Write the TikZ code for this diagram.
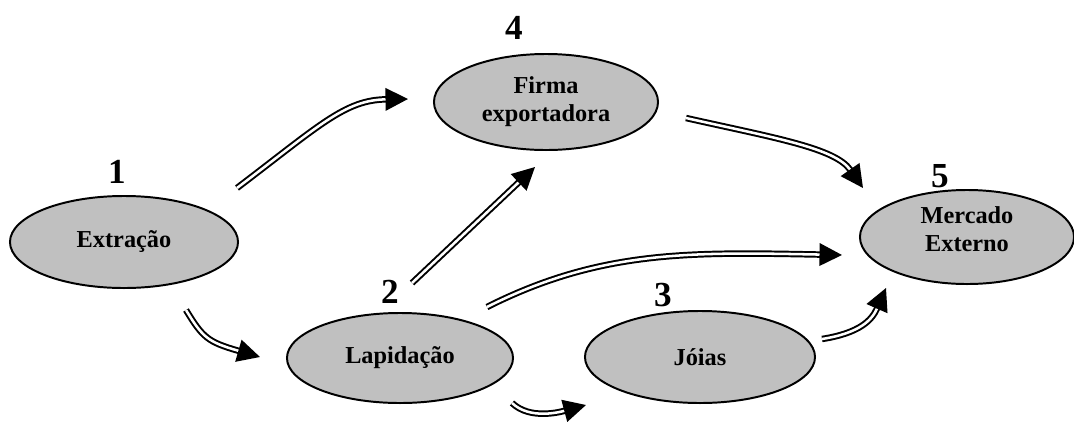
\documentclass[tikz,border=0pt]{standalone}
\usepackage{fontspec}
\setmainfont{Liberation Serif}
\usetikzlibrary{shapes.geometric, arrows.meta}

\definecolor{stagegray}{HTML}{C0C0C0}

\tikzset{
    stage/.style={ellipse, draw=black, line width=1.4pt, fill=stagegray,
        align=center, font=\fontsize{17.3}{20}\selectfont\bfseries, inner sep=0pt},
    num/.style={font=\fontsize{25}{25}\selectfont\bfseries, inner sep=0pt},
    flow/.style={double=white, double distance=1.8pt, line width=1.4pt,
        -{Triangle[length=16pt, width=16pt]}}
}

\begin{document}
\begin{tikzpicture}[x=0.025cm, y=-0.025cm]
    \useasboundingbox (0,0) rectangle (1074,423);

    % Stages
    \node[stage, minimum width=5.7cm, minimum height=2.3cm] (extr) at (124,242) {Extração};
    \node[stage, minimum width=5.6cm, minimum height=2.4cm] (firma) at (546,102) {Firma\\exportadora};
    \node[stage, minimum width=5.65cm, minimum height=2.25cm] (lapid) at (400,358) {Lapidação};
    \node[stage, minimum width=5.75cm, minimum height=2.3cm] (joias) at (700,357) {Jóias};
    \node[stage, minimum width=5.35cm, minimum height=2.35cm] (merc) at (967,237) {};
    \node[font=\fontsize{17.3}{20}\selectfont\bfseries, align=center] (merctxt) at (967,229) {Mercado\\Externo};

    % Numbers
    \node[num] (n1) at (117,172) {1};
    \node[num] (n2) at (390,292) {2};
    \node[num] (n3) at (663,295) {3};
    \node[num] (n4) at (514,28) {4};
    \node[num] (n5) at (940,176) {5};

    % Arrow ends
    \coordinate (a1s) at (237,188);  \coordinate (a1e) at (408,99);
    \coordinate (a2s) at (412,283);  \coordinate (a2e) at (535,167);
    \coordinate (a3s) at (686,118);  \coordinate (a3e) at (863,188);
    \coordinate (a4s) at (487,307);  \coordinate (a4e) at (842,255);
    \coordinate (a5s) at (822,339);  \coordinate (a5e) at (886,288);
    \coordinate (a6s) at (186,310);  \coordinate (a6e) at (260,357);
    \coordinate (a7s) at (512,403);  \coordinate (a7e) at (586,405);

    % Flows
    \draw[flow] (a1s) .. controls (320,125) and (345,100) .. (a1e);
    \draw[flow] (a2s) -- (a2e);
    \draw[flow] (a3s) .. controls (775,138) and (835,148) .. (a3e);
    \draw[flow] (a4s) .. controls (600,250) and (690,252) .. (a4e);
    \draw[flow] (a5s) .. controls (860,333) and (872,320) .. (a5e);
    \draw[flow] (a6s) .. controls (203,338) and (208,342) .. (a6e);
    \draw[flow] (a7s) .. controls (530,420) and (560,412) .. (a7e);
\end{tikzpicture}
\end{document}
